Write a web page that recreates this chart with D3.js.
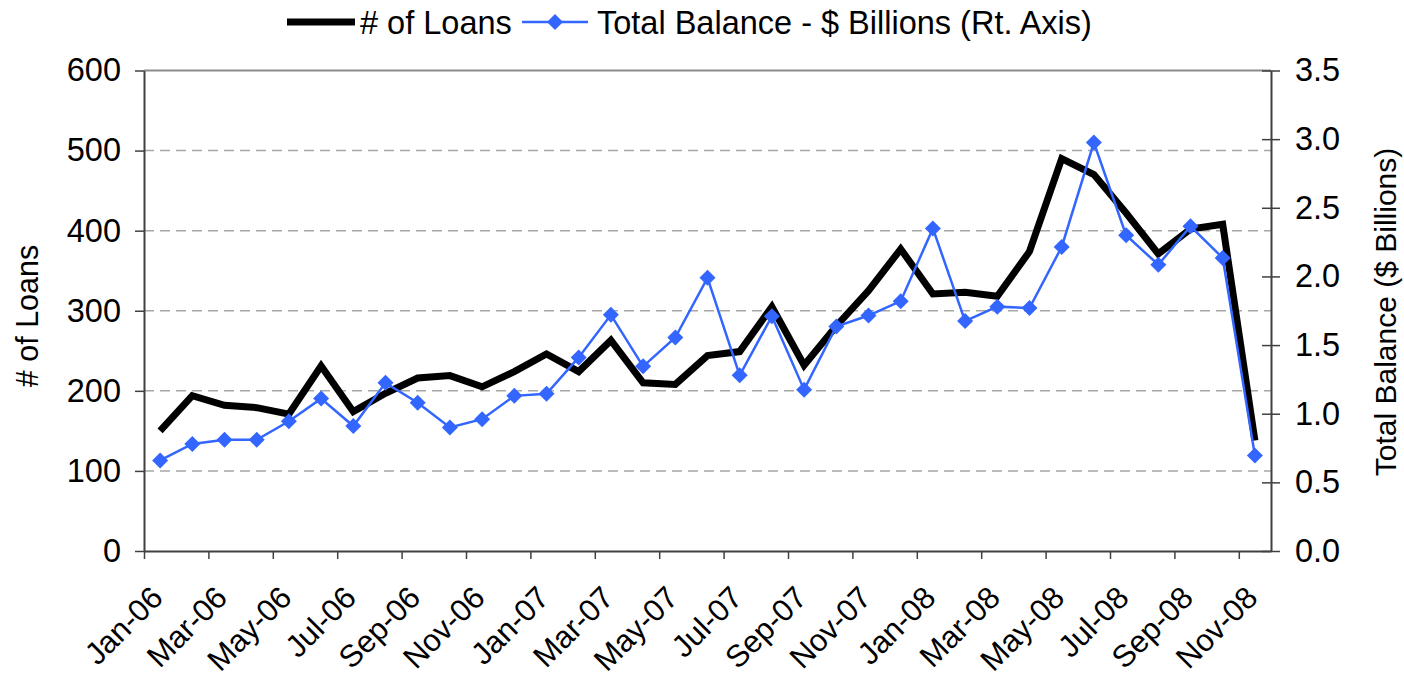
<!DOCTYPE html>
<html>
<head>
<meta charset="utf-8">
<script src="https://cdn.jsdelivr.net/npm/d3@7"></script>
<style>
  body { margin: 0; background: #fff; }
  svg text { font-family: "Liberation Sans", Arial, sans-serif; fill: #000; }
</style>
</head>
<body>
<div id="chart"></div>
<script>
// months Jan-06 .. Nov-08
var months = ["Jan-06","Feb-06","Mar-06","Apr-06","May-06","Jun-06","Jul-06","Aug-06","Sep-06","Oct-06","Nov-06","Dec-06",
              "Jan-07","Feb-07","Mar-07","Apr-07","May-07","Jun-07","Jul-07","Aug-07","Sep-07","Oct-07","Nov-07","Dec-07",
              "Jan-08","Feb-08","Mar-08","Apr-08","May-08","Jun-08","Jul-08","Aug-08","Sep-08","Oct-08","Nov-08"];
var loans = [150,194,182,179,171,231,174,197,216,219,205,224,
             246,224,263,210,208,244,249,305,232,281,325,377,
             321,323,318,374,490,470,422,371,402,408,138];
var balance = [0.66,0.78,0.81,0.81,0.945,1.11,0.91,1.225,1.08,0.90,0.96,1.13,
               1.145,1.41,1.72,1.345,1.555,1.99,1.28,1.71,1.175,1.635,1.715,1.82,
               2.35,1.675,1.78,1.77,2.215,2.975,2.30,2.085,2.365,2.135,0.695];
var leftTicks = [0,100,200,300,400,500,600];
var rightTicks = [0,0.5,1.0,1.5,2.0,2.5,3.0,3.5];

var W = 1404, H = 677;
var margin = { top: 70.5, right: 133, bottom: 126, left: 144 };
var pw = W - margin.left - margin.right;   // 1127
var ph = H - margin.top - margin.bottom;   // 481

var svg = d3.select("#chart").append("svg")
    .attr("width", W).attr("height", H);

var x = d3.scaleLinear().domain([0, months.length]).range([margin.left, margin.left + pw]);
var yL = d3.scaleLinear().domain([0, 600]).range([margin.top + ph, margin.top]);
var yR = d3.scaleLinear().domain([0, 3.5]).range([margin.top + ph, margin.top]);

// gridlines
svg.append("g")
    .selectAll("line")
    .data(leftTicks.filter(function (d) { return d > 0 && d < 600; }))
    .enter().append("line")
    .attr("x1", margin.left).attr("x2", margin.left + pw)
    .attr("y1", function (d) { return yL(d); })
    .attr("y2", function (d) { return yL(d); })
    .attr("stroke", "#a6a6a6").attr("stroke-width", 1.5)
    .attr("stroke-dasharray", "10,6");

// top border of plot area
svg.append("line")
    .attr("x1", margin.left).attr("x2", margin.left + pw)
    .attr("y1", margin.top).attr("y2", margin.top)
    .attr("stroke", "#8c8c8c").attr("stroke-width", 2);

// left axis
var gl = svg.append("g")
    .attr("transform", "translate(" + margin.left + ",0)")
    .call(d3.axisLeft(yL).tickValues(leftTicks).tickSize(9).tickPadding(14).tickSizeOuter(0));
gl.selectAll("text").style("font-size", "32.5px");

// right axis, ticks cross the line
var gr = svg.append("g")
    .attr("transform", "translate(" + (margin.left + pw) + ",0)")
    .call(d3.axisRight(yR).tickValues(rightTicks).tickFormat(d3.format(".1f"))
          .tickSize(9).tickPadding(15).tickSizeOuter(0));
gr.selectAll(".tick line").attr("x1", -9);
gr.selectAll("text").style("font-size", "32.5px");

// bottom axis, tick marks every 2 months
var gb = svg.append("g")
    .attr("transform", "translate(0," + (margin.top + ph) + ")")
    .call(d3.axisBottom(x).tickValues(d3.range(0, months.length, 2)).tickSize(8)
          .tickFormat("").tickSizeOuter(0));

[gl, gr, gb].forEach(function (g) {
    g.selectAll("path.domain").attr("stroke", "#404040").attr("stroke-width", 2);
    g.selectAll(".tick line").attr("stroke", "#404040").attr("stroke-width", 1.5);
});

// month labels
svg.append("g")
    .selectAll("text")
    .data(months.filter(function (d, i) { return i % 2 === 0; }))
    .enter().append("text")
    .attr("transform", function (d) {
        var i = months.indexOf(d);
        return "translate(" + (x(i + 0.5) - 11) + "," + 584 + ") rotate(-45)";
    })
    .attr("text-anchor", "end")
    .attr("dy", "0.71em")
    .style("font-size", "31px")
    .text(function (d) { return d; });

// axis titles
svg.append("text")
    .attr("transform", "translate(38," + 316 + ") rotate(-90)")
    .attr("text-anchor", "middle")
    .style("font-size", "30.5px")
    .text("# of Loans");
svg.append("text")
    .attr("transform", "translate(1396," + 312 + ") rotate(-90)")
    .attr("text-anchor", "middle")
    .style("font-size", "30px")
    .text("Total Balance ($ Billions)");

// series
var lineL = d3.line()
    .x(function (d, i) { return x(i + 0.5); })
    .y(function (d) { return yL(d); });
var lineR = d3.line()
    .x(function (d, i) { return x(i + 0.5); })
    .y(function (d) { return yR(d); });

svg.append("path")
    .datum(loans)
    .attr("d", lineL)
    .attr("fill", "none")
    .attr("stroke", "#000")
    .attr("stroke-width", 7)
    .attr("stroke-linejoin", "miter");

svg.append("path")
    .datum(balance)
    .attr("d", lineR)
    .attr("fill", "none")
    .attr("stroke", "#3366ff")
    .attr("stroke-width", 2.5);

svg.append("g")
    .selectAll("path")
    .data(balance)
    .enter().append("path")
    .attr("d", "M0,-8L8,0L0,8L-8,0Z")
    .attr("transform", function (d, i) { return "translate(" + x(i + 0.5) + "," + yR(d) + ")"; })
    .attr("fill", "#3366ff");

// legend
var lg = svg.append("g");
lg.append("line")
    .attr("x1", 287).attr("x2", 355).attr("y1", 22).attr("y2", 22)
    .attr("stroke", "#000").attr("stroke-width", 7);
lg.append("text")
    .attr("x", 360).attr("y", 34)
    .style("font-size", "32.5px")
    .text("# of Loans");
lg.append("line")
    .attr("x1", 522).attr("x2", 588).attr("y1", 22).attr("y2", 22)
    .attr("stroke", "#3366ff").attr("stroke-width", 2.5);
lg.append("path")
    .attr("d", "M0,-8L8,0L0,8L-8,0Z")
    .attr("transform", "translate(555,22)")
    .attr("fill", "#3366ff");
lg.append("text")
    .attr("x", 597).attr("y", 34)
    .style("font-size", "32.5px")
    .text("Total Balance - $ Billions (Rt. Axis)");
</script>
</body>
</html>
